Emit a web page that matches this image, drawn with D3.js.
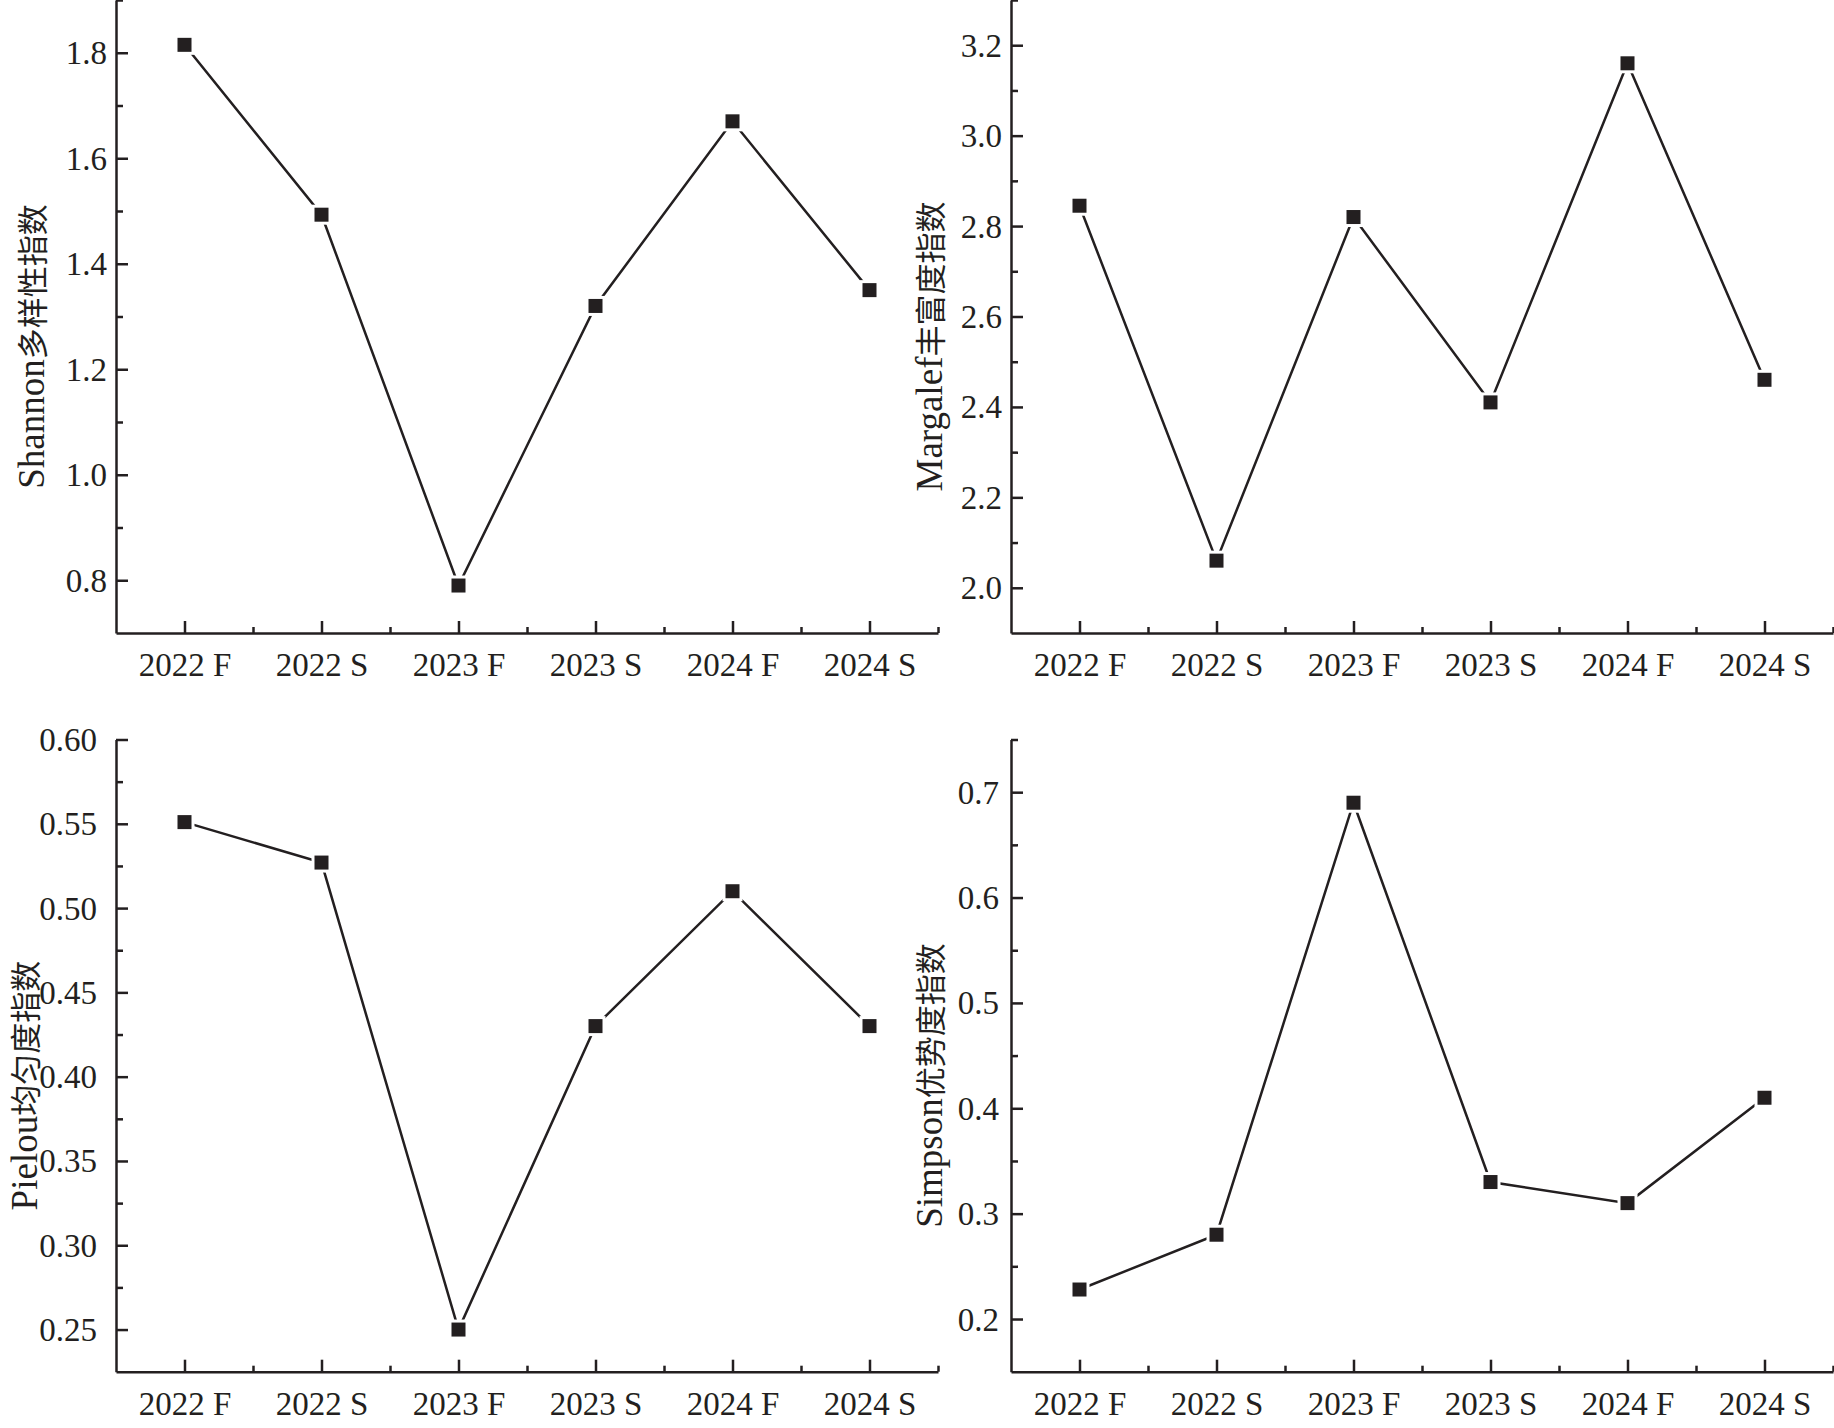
<!DOCTYPE html>
<html>
<head>
<meta charset="utf-8">
<script src="https://cdn.jsdelivr.net/npm/d3@7"></script>
<style>
  html, body { margin: 0; padding: 0; background: #fff; }
  svg { display: block; }
</style>
</head>
<body>
<svg id="chart" width="1834" height="1428"></svg>
<script>
const categories = ["2022 F", "2022 S", "2023 F", "2023 S", "2024 F", "2024 S"];

const shannonValues  = [1.815, 1.493, 0.79, 1.32, 1.67, 1.35];
const margalefValues = [2.845, 2.06, 2.82, 2.41, 3.16, 2.46];
const pielouValues   = [0.551, 0.527, 0.25, 0.43, 0.51, 0.43];
const simpsonValues  = [0.228, 0.28, 0.69, 0.33, 0.31, 0.41];

const shannonTicks  = [0.8, 1.0, 1.2, 1.4, 1.6, 1.8];
const margalefTicks = [2.0, 2.2, 2.4, 2.6, 2.8, 3.0, 3.2];
const pielouTicks   = [0.25, 0.30, 0.35, 0.40, 0.45, 0.50, 0.55, 0.60];
const simpsonTicks  = [0.2, 0.3, 0.4, 0.5, 0.6, 0.7];

const shannonLabel  = ["Shannon", "多样性指数"];
const margalefLabel = ["Margalef", "丰富度指数"];
const pielouLabel   = ["Pielou", "均匀度指数"];
const simpsonLabel  = ["Simpson", "优势度指数"];

const INK = "#231f20";
const LATIN = "'Liberation Serif', 'Times New Roman', serif";
const CJK = "'Noto Sans CJK SC', 'Noto Sans CJK JP', sans-serif";

const panels = [
  { values: shannonValues,  ticks: shannonTicks,  label: shannonLabel,  domain: [0.7, 1.9],   fmt: ".1f", minorStep: 0.1,
    left: 116,  right: 938,  top: 0,     bottom: 633,    labelGap: 9,  titleGap: 72 },
  { values: margalefValues, ticks: margalefTicks, label: margalefLabel, domain: [1.9, 3.3],   fmt: ".1f", minorStep: 0.1,
    left: 1011, right: 1833, top: 0,     bottom: 633,    labelGap: 9,  titleGap: 69 },
  { values: pielouValues,   ticks: pielouTicks,   label: pielouLabel,   domain: [0.225, 0.60], fmt: ".2f", minorStep: 0.025,
    left: 116,  right: 938,  top: 739.5, bottom: 1371.7, labelGap: 19, titleGap: 79 },
  { values: simpsonValues,  ticks: simpsonTicks,  label: simpsonLabel,  domain: [0.15, 0.75], fmt: ".1f", minorStep: 0.05,
    left: 1011, right: 1833, top: 739.5, bottom: 1371.7, labelGap: 12, titleGap: 69 }
];

const svg = d3.select("#chart");

panels.forEach(p => {
  const g = svg.append("g");
  const x = d3.scaleLinear().domain([0.5, categories.length + 0.5]).range([p.left, p.right]);
  const y = d3.scaleLinear().domain(p.domain).range([p.bottom, p.top]);

  const minorY = d3.range(0, 200).map(i => +(p.domain[0] + i * p.minorStep).toFixed(4))
    .filter(v => v > p.domain[0] + 1e-9 && v <= p.domain[1] + 1e-9 && !p.ticks.some(t => Math.abs(t - v) < 1e-6));
  const minorX = d3.range(categories.length).map(i => i + 1.5);

  // Y axis (ticks inward)
  const yAxis = d3.axisRight(y).tickValues(p.ticks).tickFormat(d3.format(p.fmt)).tickSize(12).tickSizeOuter(0);
  const ya = g.append("g").attr("transform", `translate(${p.left},0)`).call(yAxis);
  ya.select(".domain").attr("stroke", INK).attr("stroke-width", 2.5);
  ya.selectAll(".tick line").attr("stroke", INK).attr("stroke-width", 2.5);
  ya.selectAll(".tick text")
    .attr("x", -p.labelGap).attr("dy", null).attr("y", 11)
    .attr("text-anchor", "end")
    .attr("fill", INK)
    .style("font-family", LATIN).style("font-size", "33px");

  const yMinor = d3.axisRight(y).tickValues(minorY).tickFormat("").tickSize(7).tickSizeOuter(0);
  const ym = g.append("g").attr("transform", `translate(${p.left},0)`).call(yMinor);
  ym.select(".domain").remove();
  ym.selectAll(".tick line").attr("stroke", INK).attr("stroke-width", 2.5);

  // X axis (ticks inward / upward)
  const xAxis = d3.axisTop(x).tickValues(d3.range(1, categories.length + 1))
    .tickFormat(d => categories[d - 1]).tickSize(12).tickSizeOuter(0);
  const xa = g.append("g").attr("transform", `translate(0,${p.bottom})`).call(xAxis);
  xa.select(".domain").attr("stroke", INK).attr("stroke-width", 2.5);
  xa.selectAll(".tick line").attr("stroke", INK).attr("stroke-width", 2.5);
  xa.selectAll(".tick text")
    .attr("y", 43).attr("dy", null)
    .attr("fill", INK)
    .style("font-family", LATIN).style("font-size", "33px");

  const xMinor = d3.axisTop(x).tickValues(minorX).tickFormat("").tickSize(6).tickSizeOuter(0);
  const xm = g.append("g").attr("transform", `translate(0,${p.bottom})`).call(xMinor);
  xm.select(".domain").remove();
  xm.selectAll(".tick line").attr("stroke", INK).attr("stroke-width", 2.5);

  // line
  const line = d3.line().x((d, i) => x(i + 1)).y(d => y(d));
  g.append("path").datum(p.values)
    .attr("d", line)
    .attr("fill", "none")
    .attr("stroke", INK)
    .attr("stroke-width", 2.5);

  // markers
  g.selectAll("rect.marker").data(p.values).enter().append("rect")
    .attr("class", "marker")
    .attr("x", (d, i) => x(i + 1) - 7)
    .attr("y", d => y(d) - 7)
    .attr("width", 14).attr("height", 14)
    .attr("fill", INK)
    .attr("stroke", "#fff")
    .attr("stroke-width", 6)
    .attr("paint-order", "stroke");

  // y-axis title
  const cy = (p.top + p.bottom) / 2 + 30;
  const t = g.append("text")
    .attr("transform", `translate(${p.left - p.titleGap},${cy}) rotate(-90)`)
    .attr("text-anchor", "middle")
    .attr("fill", INK);
  t.append("tspan").text(p.label[0]).style("font-family", LATIN).style("font-size", "37px");
  t.append("tspan").text(p.label[1]).style("font-family", CJK).style("font-size", "31px");
});
</script>
</body>
</html>
